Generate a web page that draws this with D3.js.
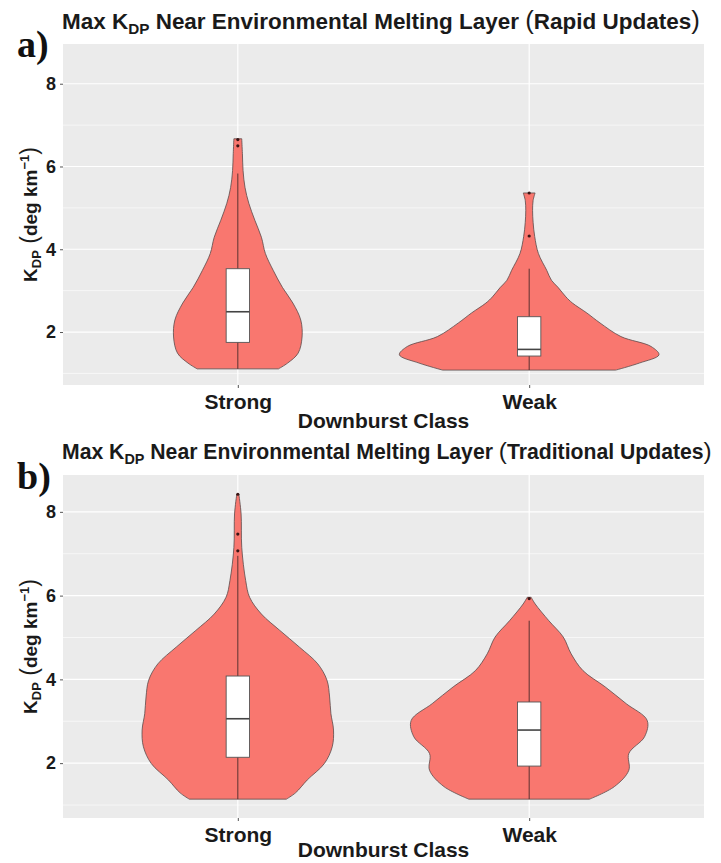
<!DOCTYPE html>
<html>
<head>
<meta charset="utf-8">
<script src="https://cdn.jsdelivr.net/npm/d3@7"></script>
<style>
  body { margin: 0; background: #fff; }
  svg { display: block; }
</style>
</head>
<body>
<script>
var width = 721, height = 863;
var sans = "Liberation Sans, Arial, sans-serif";

var classes = ["Strong", "Weak"];
var majorTicks = [2, 4, 6, 8];
var minorTicks = [1, 3, 5, 7];

// violin outlines: KDP level and relative density (half width)
var rapidStrongKdp  = [1.11, 1.25, 1.49, 1.88, 2.29, 2.70, 3.08, 3.49, 3.90, 4.29, 4.70, 5.11, 5.49, 5.90, 6.31, 6.67];
var rapidStrongDens = [0.31, 0.38, 0.46, 0.49, 0.48, 0.42, 0.34, 0.27, 0.21, 0.18, 0.13, 0.084, 0.055, 0.04, 0.035, 0.03];
var rapidWeakKdp  = [1.08, 1.25, 1.45, 1.65, 1.89, 2.22, 2.46, 2.70, 2.85, 3.08, 3.25, 3.49, 3.90, 4.31, 4.65, 4.94, 5.18, 5.36];
var rapidWeakDens = [0.66, 0.84, 0.99, 0.93, 0.70, 0.54, 0.44, 0.33, 0.28, 0.22, 0.17, 0.134, 0.07, 0.042, 0.03, 0.026, 0.03, 0.045];
var tradStrongKdp  = [1.14, 1.29, 1.60, 1.99, 2.39, 2.79, 3.18, 3.58, 3.98, 4.37, 4.77, 5.17, 5.56, 5.96, 6.36, 7.15, 7.95, 8.42];
var tradStrongDens = [0.37, 0.44, 0.53, 0.66, 0.72, 0.73, 0.71, 0.70, 0.68, 0.61, 0.47, 0.32, 0.18, 0.09, 0.06, 0.03, 0.025, 0.008];
var tradWeakKdp  = [1.14, 1.44, 1.83, 2.23, 2.63, 3.02, 3.42, 3.82, 4.21, 4.61, 5.01, 5.40, 5.80, 5.96];
var tradWeakDens = [0.46, 0.65, 0.76, 0.76, 0.88, 0.90, 0.74, 0.58, 0.41, 0.32, 0.26, 0.15, 0.046, 0.015];

// boxplot stats: [lower whisker, q1, median, q3, upper whisker]
var rapidStrongBox = [1.11, 1.75, 2.49, 3.53, 5.83];
var rapidWeakBox   = [1.08, 1.42, 1.58, 2.37, 3.53];
var tradStrongBox  = [1.14, 2.14, 3.06, 4.08, 6.95];
var tradWeakBox    = [1.14, 1.93, 2.79, 3.46, 5.40];

var rapidStrongOut = [6.50, 6.65];
var rapidWeakOut   = [4.32, 5.36];
var tradStrongOut  = [7.07, 7.47, 8.42];
var tradWeakOut    = [5.93];

var panels = [
  {letter: "a)", tag: "Rapid Updates", top: 44, bottom: 385, domain: [0.72, 8.96], titleY: 29, letterY: 57, xTitleY: 428,
   violins: [[rapidStrongKdp, rapidStrongDens], [rapidWeakKdp, rapidWeakDens]],
   boxes: [rapidStrongBox, rapidWeakBox], outliers: [rapidStrongOut, rapidWeakOut], titleW: 638},
  {letter: "b)", tag: "Traditional Updates", top: 475, bottom: 818, domain: [0.69, 8.88], titleY: 459, letterY: 489, xTitleY: 857,
   violins: [[tradStrongKdp, tradStrongDens], [tradWeakKdp, tradWeakDens]],
   boxes: [tradStrongBox, tradWeakBox], outliers: [tradStrongOut, tradWeakOut], titleW: 650}
];

var left = 63, right = 704;

var svg = d3.select("body").append("svg")
    .attr("width", width)
    .attr("height", height);

var x = d3.scalePoint().domain(classes).range([left, right]).padding(0.6);
var dens = d3.scaleLinear().domain([0, 1]).range([0, 0.45 * x.step()]);
var boxW = 0.08 * x.step();

function drawTitle(g, size, tag, yb) {
  var t = g.append("text")
    .attr("x", 62).attr("y", yb)
    .style("font-family", sans)
    .attr("font-size", size).attr("font-weight", "bold").attr("fill", "#1a1a1a");
  t.append("tspan").text("Max K");
  t.append("tspan").attr("font-size", size * 0.68).attr("dy", size * 0.22).text("DP");
  t.append("tspan").attr("dy", -size * 0.22).text(" Near Environmental Melting Layer ");
  t.append("tspan").attr("font-weight", "normal").attr("font-size", size * 1.15).text("(");
  t.append("tspan").text(tag);
  t.append("tspan").attr("font-weight", "normal").attr("font-size", size * 1.15).text(")");
  return t;
}

panels.forEach(function(p) {
  var y = d3.scaleLinear().domain(p.domain).range([p.bottom, p.top]);
  var g = svg.append("g");

  g.append("rect")
    .attr("x", left).attr("y", p.top)
    .attr("width", right - left).attr("height", p.bottom - p.top)
    .attr("fill", "#EBEBEB");

  g.selectAll(".minor").data(minorTicks).enter().append("line")
    .attr("x1", left).attr("x2", right)
    .attr("y1", function(d) { return y(d); }).attr("y2", function(d) { return y(d); })
    .attr("stroke", "#fff").attr("stroke-width", 0.6);
  g.selectAll(".major").data(majorTicks).enter().append("line")
    .attr("x1", left).attr("x2", right)
    .attr("y1", function(d) { return y(d); }).attr("y2", function(d) { return y(d); })
    .attr("stroke", "#fff").attr("stroke-width", 1.2);
  g.selectAll(".vgrid").data(classes).enter().append("line")
    .attr("x1", function(d) { return x(d); }).attr("x2", function(d) { return x(d); })
    .attr("y1", p.top).attr("y2", p.bottom)
    .attr("stroke", "#fff").attr("stroke-width", 1.2);

  // axes
  var ya = g.append("g").attr("transform", "translate(" + left + ",0)")
    .call(d3.axisLeft(y).tickValues(majorTicks).tickSize(3).tickPadding(4));
  ya.select(".domain").remove();
  ya.selectAll("line").attr("stroke", "#555");
  ya.selectAll("text").attr("font-size", 18).attr("font-weight", "bold").attr("fill", "#1a1a1a")
    .style("font-family", sans);

  var xa = g.append("g").attr("transform", "translate(0," + p.bottom + ")")
    .call(d3.axisBottom(x).tickSize(3).tickPadding(6));
  xa.select(".domain").remove();
  xa.selectAll("line").attr("stroke", "#555");
  xa.selectAll("text").attr("font-size", 21).attr("font-weight", "bold").attr("fill", "#1a1a1a")
    .style("font-family", sans);

  // violins
  classes.forEach(function(c, i) {
    var kdp = p.violins[i][0], dd = p.violins[i][1];
    var pts = kdp.map(function(v, j) { return [v, dd[j]]; });
    var area = d3.area()
      .y(function(d) { return y(d[0]); })
      .x0(function(d) { return x(c) - dens(d[1]); })
      .x1(function(d) { return x(c) + dens(d[1]); })
      .curve(d3.curveCatmullRom);
    g.append("path").datum(pts)
      .attr("d", area)
      .attr("fill", "#F9776F")
      .attr("stroke", "#5a4a4a").attr("stroke-width", 0.8);

    var b = p.boxes[i];
    g.append("line")
      .attr("x1", x(c)).attr("x2", x(c))
      .attr("y1", y(b[0])).attr("y2", y(b[4]))
      .attr("stroke", "#4a2a2a").attr("stroke-width", 0.9);
    g.append("rect")
      .attr("x", x(c) - boxW / 2).attr("width", boxW)
      .attr("y", y(b[3])).attr("height", y(b[1]) - y(b[3]))
      .attr("fill", "#fff").attr("stroke", "#555").attr("stroke-width", 0.9);
    g.append("line")
      .attr("x1", x(c) - boxW / 2).attr("x2", x(c) + boxW / 2)
      .attr("y1", y(b[2])).attr("y2", y(b[2]))
      .attr("stroke", "#444").attr("stroke-width", 1.6);

    g.selectAll(null).data(p.outliers[i]).enter().append("circle")
      .attr("cx", x(c)).attr("cy", function(d) { return y(d); })
      .attr("r", 1.6).attr("fill", "#3a1515");
  });

  // panel title, fitted to width
  var t = drawTitle(g, 17, p.tag, p.titleY);
  var w = t.node().getBBox().width;
  t.remove();
  drawTitle(g, 17 * p.titleW / w, p.tag, p.titleY);

  g.append("text")
    .attr("x", 17).attr("y", p.letterY)
    .style("font-family", "Liberation Serif, Times New Roman, serif")
    .attr("font-size", 38).attr("font-weight", "bold").attr("fill", "#111")
    .text(p.letter);

  // y title
  var cy = (p.top + p.bottom) / 2;
  var yt = g.append("text")
    .attr("transform", "translate(37," + cy + ") rotate(-90)")
    .attr("text-anchor", "middle")
    .style("font-family", sans)
    .attr("font-size", 19).attr("font-weight", "bold").attr("fill", "#1a1a1a");
  yt.append("tspan").text("K");
  yt.append("tspan").attr("font-size", 13).attr("dy", 4).text("DP");
  yt.append("tspan").attr("dy", -4).attr("font-weight", "normal").attr("font-size", 23).text(" (");
  yt.append("tspan").text("deg km");
  yt.append("tspan").attr("font-size", 13).attr("dy", -8).text("\u22121");
  yt.append("tspan").attr("dy", 8).attr("font-weight", "normal").attr("font-size", 23).text(")");

  g.append("text")
    .attr("x", (left + right) / 2).attr("y", p.xTitleY)
    .attr("text-anchor", "middle")
    .style("font-family", sans)
    .attr("font-size", 21).attr("font-weight", "bold").attr("fill", "#1a1a1a")
    .text("Downburst Class");
});
</script>
</body>
</html>
